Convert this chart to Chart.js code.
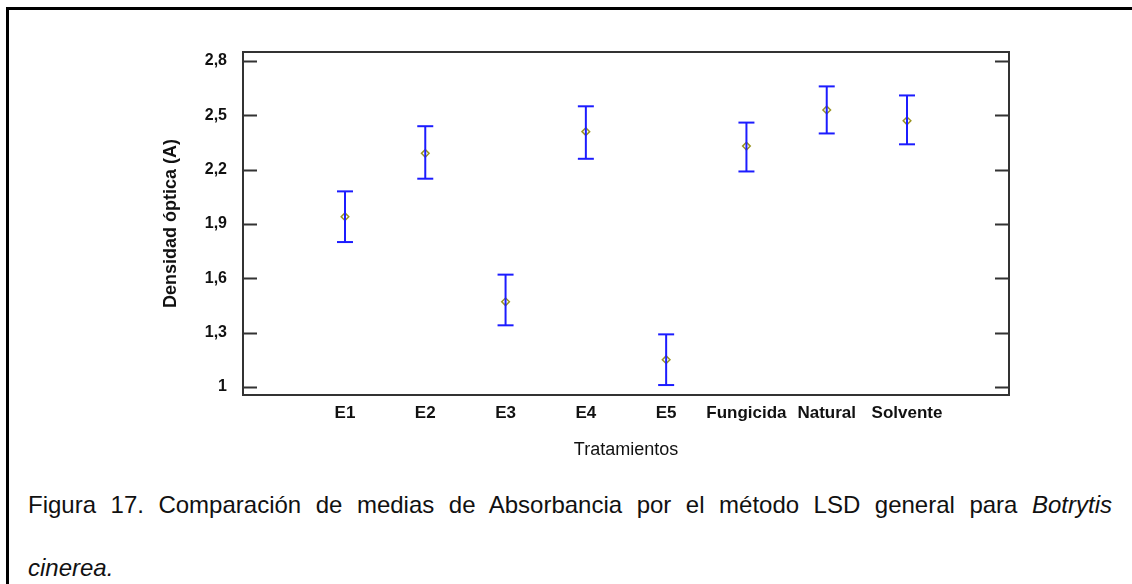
<!DOCTYPE html>
<html>
<head>
<meta charset="utf-8">
<script src="https://cdn.jsdelivr.net/npm/chart.js@4/dist/chart.umd.min.js"></script>
<style>
  html, body { margin: 0; padding: 0; background: #fff; }
  body { width: 1132px; height: 584px; position: relative; overflow: hidden; font-family: "Liberation Sans", Arial, sans-serif; }
  .frame { position: absolute; left: 6px; top: 7px; right: 0; bottom: 0; border-top: 3px solid #000; border-left: 3px solid #000; }
  .chart-box { position: absolute; left: 0; top: 0; width: 1132px; height: 470px; }
  .caption { position: absolute; left: 28px; width: 1084px; font-size: 24px; line-height: 28px; color: #111; white-space: nowrap; }
  .line1 { top: 491px; text-align: justify; text-align-last: justify; white-space: normal; }
  .line2 { top: 554px; }
</style>
</head>
<body>
<div class="frame"></div>
<div class="chart-box"><canvas id="chart"></canvas></div>
<div class="caption line1">Figura 17. Comparación de medias de Absorbancia por el método LSD general para <i>Botrytis</i></div>
<div class="caption line2"><i>cinerea.</i></div>

<script>
// data
const treatments = ['E1', 'E2', 'E3', 'E4', 'E5', 'Fungicida', 'Natural', 'Solvente']
const means = [1.94, 2.29, 1.47, 2.41, 1.15, 2.33, 2.53, 2.47]
const lower = [1.80, 2.15, 1.34, 2.26, 1.01, 2.19, 2.40, 2.34]
const upper = [2.08, 2.44, 1.62, 2.55, 1.29, 2.46, 2.66, 2.61]
const yTicks = [1, 1.3, 1.6, 1.9, 2.2, 2.5, 2.8]

const blue = '#1c1cff'
const olive = '#9a9420'
const frameColor = '#333'

// box round the plot plus inward ticks on both sides
const framePlugin = {
    id: 'frame',
    afterDatasetsDraw(chart) {
        const { ctx, chartArea: a, scales } = chart
        ctx.save()
        ctx.strokeStyle = frameColor
        ctx.lineWidth = 2
        ctx.strokeRect(a.left, a.top, a.right - a.left, a.bottom - a.top)
        ctx.beginPath()
        yTicks.forEach(v => {
            const y = Math.round(scales.y.getPixelForValue(v)) + 0.5
            ctx.moveTo(a.left, y); ctx.lineTo(a.left + 14, y)
            ctx.moveTo(a.right - 14, y); ctx.lineTo(a.right, y)
        })
        ctx.stroke()
        ctx.restore()
    }
}

const barSets = treatments.map((t, i) => ({
    data: [{ x: i, y: lower[i] }, { x: i, y: upper[i] }],
    showLine: true,
    borderColor: blue,
    borderWidth: 2,
    pointRadius: 0
}))

new Chart(document.getElementById('chart'), {
    type: 'scatter',
    data: {
        datasets: [
            ...barSets,
            {
                data: treatments.map((t, i) => ({ x: i, y: lower[i] }))
                    .concat(treatments.map((t, i) => ({ x: i, y: upper[i] }))),
                pointStyle: 'line',
                pointRadius: 8,
                borderColor: blue,
                borderWidth: 2
            },
            {
                data: treatments.map((t, i) => ({ x: i, y: means[i] })),
                pointStyle: 'rectRot',
                pointRadius: 3.8,
                borderColor: olive,
                backgroundColor: 'rgba(0,0,0,0)',
                borderWidth: 1.5
            }
        ]
    },
    options: {
        responsive: true,
        maintainAspectRatio: false,
        animation: false,
        events: [],
        layout: { padding: { left: 150, right: 123, top: 52, bottom: 0 } },
        plugins: {
            legend: { display: false },
            tooltip: { enabled: false }
        },
        scales: {
            x: {
                type: 'linear',
                min: -1.27,
                max: 8.27,
                afterBuildTicks: s => { s.ticks = treatments.map((t, i) => ({ value: i })) },
                afterFit: s => { s.height = 75 },
                grid: { display: false, drawTicks: false },
                border: { display: false },
                ticks: {
                    padding: 8,
                    autoSkip: false,
                    maxRotation: 0,
                    color: '#111',
                    font: { family: 'Liberation Sans', size: 17, weight: 'bold' },
                    callback: v => treatments[v] ?? ''
                },
                title: {
                    display: true,
                    text: 'Tratamientos',
                    color: '#111',
                    padding: { top: 9, bottom: 9 },
                    font: { family: 'Liberation Sans', size: 18 }
                }
            },
            y: {
                type: 'linear',
                min: 0.955,
                max: 2.85,
                afterBuildTicks: s => { s.ticks = yTicks.map(v => ({ value: v })) },
                afterFit: s => { s.width = 93 },
                grid: { display: false, drawTicks: false },
                border: { display: false },
                ticks: {
                    padding: 16,
                    color: '#111',
                    font: { family: 'Liberation Sans', size: 16, weight: 'bold' },
                    callback: v => v === 1 ? '1' : v.toFixed(1).replace('.', ',')
                },
                title: {
                    display: true,
                    text: 'Densidad óptica (A)',
                    color: '#111',
                    padding: { top: 10, bottom: 0 },
                    font: { family: 'Liberation Sans', size: 18, weight: 'bold' }
                }
            }
        }
    },
    plugins: [framePlugin]
})
</script>
</body>
</html>
